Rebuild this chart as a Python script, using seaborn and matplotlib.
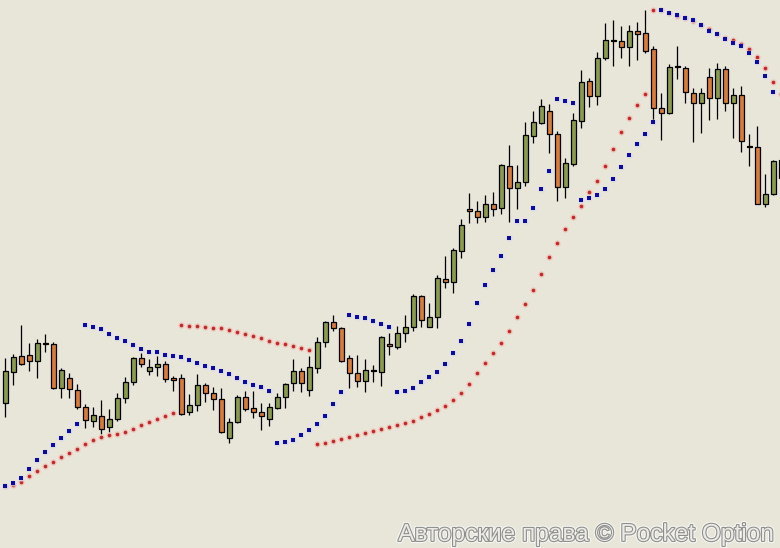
import numpy as np
import pandas as pd
import seaborn as sns
import matplotlib.pyplot as plt
from matplotlib import patheffects

# candle prices (arbitrary price units)
opens = [144.7, 176.3, 191.7, 192.7, 187.3, 204.5, 203.7, 160.3, 169.7, 158.3,
         140.7, 127.3, 132, 121.3, 128.7, 149.7, 165.7, 189.7, 177.3, 180.7,
         183.7, 170, 169.7, 136.3, 142.7, 162.7, 154.7, 148.7, 109.7, 125.7,
         151.3, 139.7, 136.3, 128.7, 140.3, 151.3, 164.7, 177, 157.7, 179.7,
         205.7, 225.7, 219.7, 189.7, 174.7, 167.3, 177.5, 176.3, 204, 200.7,
         214.7, 220.7, 252, 220.7, 230.7, 268.7, 266.3, 297.3, 339, 337.3,
         330.7, 343.7, 339.7, 382, 359.7, 365.7, 412.3, 424.7, 437, 414,
         361.3, 384, 427.3, 467, 452.3, 489.7, 507.5, 507, 501.3, 517,
         514.7, 499, 439.7, 435.3, 480.7, 479.7, 454.7, 444.7, 470.7, 449.7,
         478.7, 444.7, 453, 400.7, 400.7, 343.7, 353.7, 370]
highs = [190.3, 194, 223, 205, 209, 214, 205.7, 179.7, 174.7, 163.7,
         143.7, 141.3, 148, 138.7, 154.7, 171, 191.3, 195.3, 188.7, 192,
         187, 172.3, 173.7, 154, 174, 164.7, 161.3, 160.3, 129.7, 153,
         157.3, 156.7, 145.3, 144.7, 154.7, 165.3, 188.7, 179.7, 192, 210.7,
         227.3, 233, 221.3, 193, 193, 188.7, 183, 212, 214.7, 222,
         233, 254, 253, 244.7, 273, 292, 299.7, 328.7, 355.3, 347,
         353, 356, 384, 403, 383, 426.3, 437, 448.7, 444, 417,
         389.7, 434.7, 478, 469.7, 495.7, 524.7, 528, 522, 523, 526.3,
         538, 502.3, 454.7, 483.7, 502, 482, 460.3, 459.7, 480.3, 484.7,
         482, 459.7, 462, 413.7, 422, 373.7, 388, 395]
lows = [131.3, 163, 183, 177.3, 170.3, 195.7, 159, 150.3, 150.3, 139,
        119.7, 121.3, 113.7, 115.7, 127, 145.3, 163, 181.3, 173, 172.3,
        166.3, 157.3, 133, 133, 137, 146.3, 138.3, 115.3, 104.7, 124.7,
        137.3, 129.7, 118, 122, 138.7, 139.7, 157.3, 156, 152, 175.3,
        201.3, 217.3, 185.7, 159.7, 161.3, 155.7, 166.3, 162, 193, 198.7,
        205.7, 217.3, 221.3, 220.7, 219.7, 260.3, 254.7, 289.7, 324.7, 324.7,
        326.3, 332.3, 334, 326.3, 339, 362.3, 404.7, 423.7, 394.7, 347.3,
        350.3, 382, 420.3, 441.3, 443, 488, 482.3, 489.7, 482.3, 488,
        495.3, 426.3, 408, 434, 469, 445.3, 406.3, 415.3, 428, 428.7,
        437, 409.7, 395.7, 382.3, 343.7, 340.7, 353, 360]
closes = [177, 190.7, 184, 187.3, 204.7, 204.5, 160.3, 177.7, 158.7, 140.7,
          127.7, 133, 119.3, 128.7, 149.7, 165.7, 189.7, 183.7, 180.7, 183.7,
          168.7, 167.7, 134, 143, 162.7, 154.7, 148.7, 116.3, 126.3, 151.3,
          139.3, 136.3, 132.3, 140.7, 151.3, 163.7, 177, 164.7, 180.7, 205.7,
          225.7, 219.7, 187.3, 174.7, 167.3, 178, 177.5, 210.7, 201.7, 214.7,
          220.7, 252, 228, 230.7, 269.7, 266.3, 298, 323, 336.7, 330.7,
          343.7, 338.7, 382.7, 359.7, 365.7, 413, 425.7, 442, 413.7, 361.3,
          384.7, 428, 465.7, 452.3, 489.7, 508, 507.5, 501.3, 517, 514.3,
          497.3, 439.7, 434.7, 481.3, 480.7, 456.3, 444.7, 454.7, 449.7, 478.7,
          444.7, 453, 407, 400.7, 343.7, 353.7, 387, 388]

# parabolic SAR dots
sar_blue = [62, 65.3, 70.3, 79, 88, 96, 103.3, 110, 117, 124,
            223, 221, 218.7, 214, 210, 207, 203, 199, 196, 196,
            193, 192, 190.7, 188, 184.7, 182, 180, 177, 174, 170,
            166, 163, 160.7, 157.3, 104.7, 106, 108, 113, 118.3, 124,
            132, 143.7, 156, 233, 231.3, 230, 227, 224, 220.7, 156,
            157, 160.3, 166, 171, 175.7, 184, 195, 207, 224, 245,
            263, 278, 292, 310, 326.7, 326.7, 340.3, 359, 377, 448.7,
            447, 445, 348, 350.3, 353, 359, 369, 380.7, 392.7, 404,
            414, 425.7, 537.7, 534.7, 533.3, 530, 528, 523, 517.3, 514.3,
            509.3, 505, 502, 495, 486, 472, 455.7, np.nan]
sar_red = [62, 63, 65.7, 71.7, 77, 81.7, 86, 90.7, 95, 99,
           103.7, 107.7, 110.7, 113.3, 114, 115.7, 118.7, 123, 125.7, 129,
           132, 134.7, 222.7, 221.7, 221.7, 220.7, 219.7, 219.7, 217.7, 216,
           213.7, 212, 209.7, 207.3, 205.3, 203.7, 201.7, 199.7, 197.7, 104.3,
           104.7, 106.7, 109, 111, 112.7, 114.7, 116.7, 118.7, 120.7, 122.7,
           124.8, 126.7, 130.7, 133.8, 137.7, 141.8, 147.7, 154.7, 163.8, 174.7,
           184.7, 194.7, 204.7, 216.8, 230.7, 243.7, 257.7, 273.7, 290.7, 305,
           318.8, 330.7, 341.7, 355.7, 367.5, 381.7, 398.7, 415.7, 429.7, 442.7,
           453.7, 537.7, 537.7, 534.7, 532, 530, 527, 523, 518.7, 514.3,
           510.3, 507.7, 504, 498.7, 490.7, 479.7, 465.7, 453.7]

df = pd.DataFrame({"open": opens, "high": highs, "low": lows, "close": closes,
                   "sar_blue": sar_blue, "sar_red": sar_red})
df["bar"] = np.arange(len(df))

bg = "#e8e5d9"
up_col = "#8a9a4e"
down_col = "#d97b3b"

sns.set_theme(style="white")

fig = plt.figure(figsize=(7.8, 5.48), dpi=100)
fig.patch.set_facecolor(bg)
ax = fig.add_axes([0, 0, 1, 1])
ax.set_facecolor(bg)

# candles
body_low = df[["open", "close"]].min(axis=1)
body_h = (df["close"] - df["open"]).abs()
doji = body_h < 0.6
colors = np.where(df["close"] > df["open"], up_col, down_col)
colors = np.where(doji, "black", colors)
body_h = body_h.where(~doji, 1.0)

ax.vlines(df["bar"], df["low"], df["high"], color="black", linewidth=0.9, zorder=2)
ax.bar(df["bar"], body_h, bottom=body_low, width=0.6, color=colors,
       edgecolor="black", linewidth=0.9, zorder=3)

# SAR dots: soft halo then core
sns.scatterplot(data=df, x="bar", y="sar_red", ax=ax, s=22, color="#f0c4ba",
                linewidth=0, alpha=0.8, zorder=4, legend=False)
sns.scatterplot(data=df, x="bar", y="sar_red", ax=ax, s=7, color="#c22a2a",
                linewidth=0, zorder=5, legend=False)
sns.scatterplot(data=df, x="bar", y="sar_blue", ax=ax, s=20, color="#d4d6ee",
                linewidth=0, alpha=0.7, zorder=6, legend=False)
sns.scatterplot(data=df, x="bar", y="sar_blue", ax=ax, s=9, color="#0a0aa6",
                marker="s", linewidth=0, zorder=7, legend=False)

ax.set_xlim(-0.66, 96.84)
ax.set_ylim(0, 548)
ax.axis("off")

# watermark
fig.text(0.99, 0.013, "Авторские права © Pocket Option", ha="right", va="baseline",
         fontsize=17.6, family="Liberation Sans", color="#ecebe4",
         path_effects=[patheffects.withStroke(linewidth=3.2, foreground="#f7f7f3"),
                       patheffects.withStroke(linewidth=1.6, foreground="#8e8e8e")])

fig.savefig("out.png", dpi=100, facecolor=bg)
